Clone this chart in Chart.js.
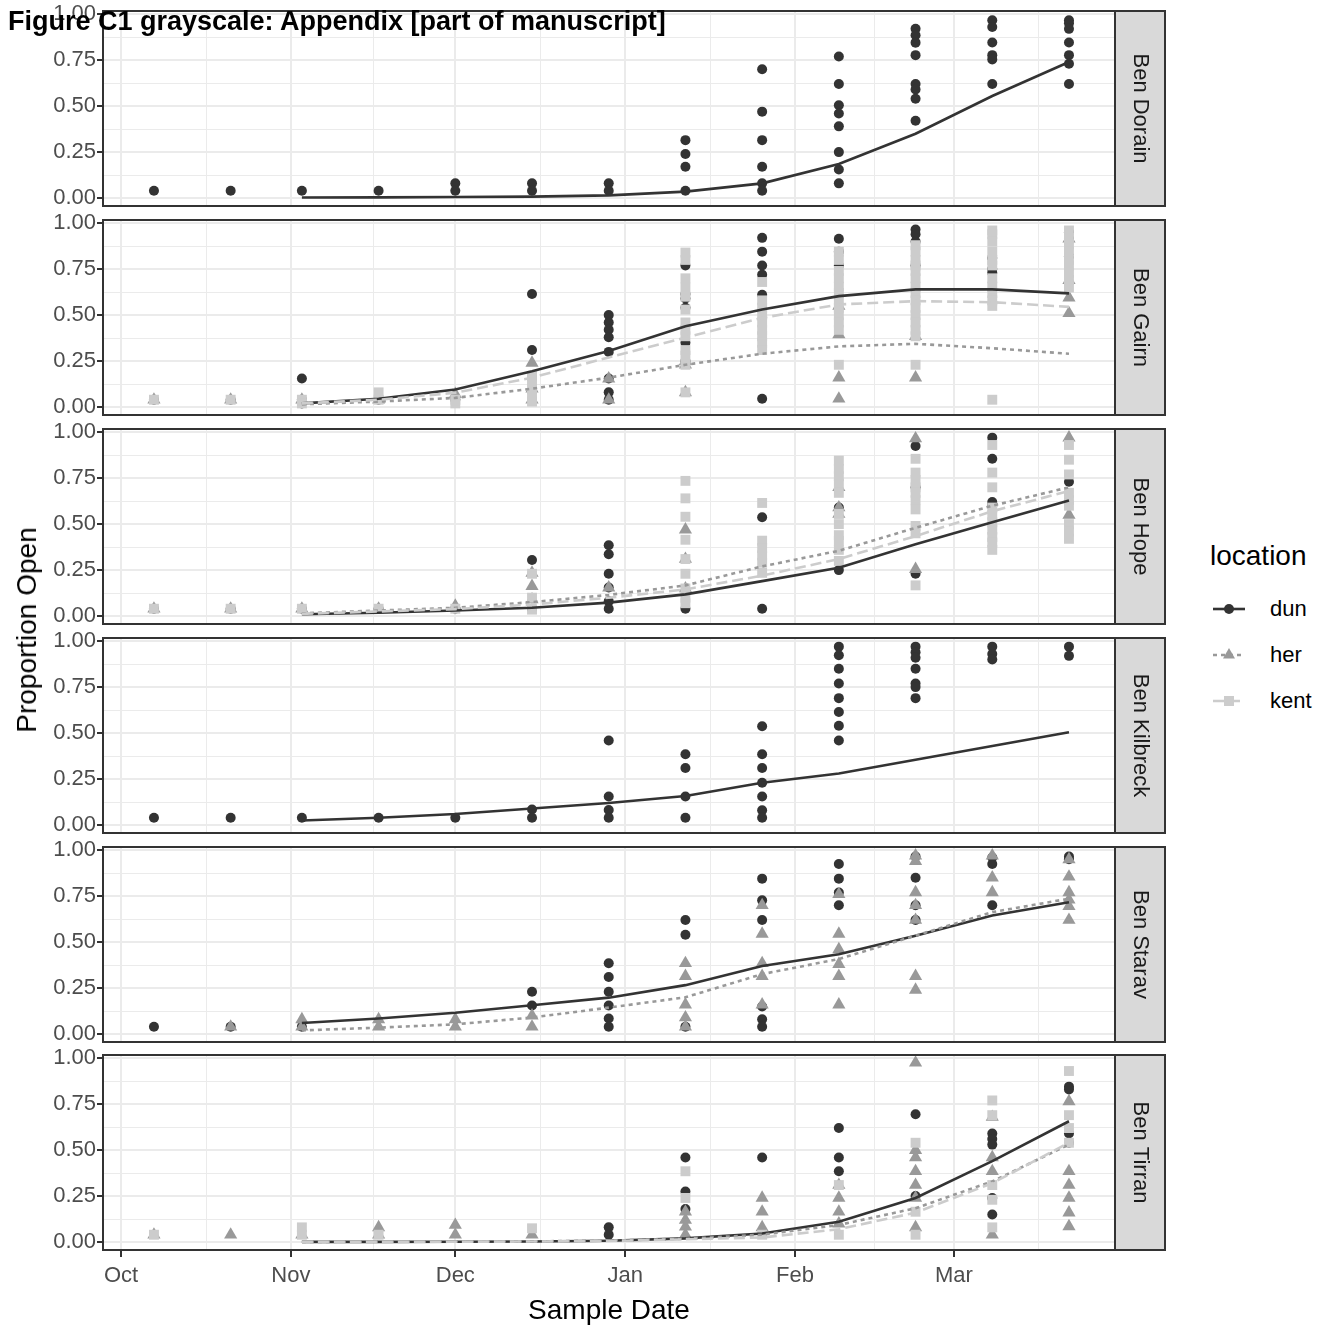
<!DOCTYPE html>
<html><head><meta charset="utf-8">
<script src="https://cdn.jsdelivr.net/npm/chart.js@4.4.0/dist/chart.umd.min.js"></script>
<style>
html,body{margin:0;padding:0;background:#fff;}
body{width:1325px;height:1329px;position:relative;overflow:hidden;font-family:"Liberation Sans",Arial,Helvetica,sans-serif;}
canvas{position:absolute;left:0;}
.t{position:absolute;white-space:nowrap;color:#000;}
</style></head><body>
<script>
// ---------- DATA ----------
const sampleDays = [6, 20, 33, 47, 61, 75, 89, 103, 117, 131, 145, 159, 173];   // days since 1 Oct
const fitDays    = [33, 47, 61, 75, 89, 103, 117, 131, 145, 159, 173];
const monthTicks = [0, 31, 61, 92, 123, 152];
const monthLabels = ['Oct', 'Nov', 'Dec', 'Jan', 'Feb', 'Mar'];
const monthMinor = [15.5, 46, 76.5, 107.5, 137.5, 167.5];
const yMajor = [0, 0.25, 0.5, 0.75, 1];
const yMinor = [0.125, 0.375, 0.625, 0.875];
const locations = ['dun', 'her', 'kent'];
const mountains = ['Ben Dorain', 'Ben Gairn', 'Ben Hope', 'Ben Kilbreck', 'Ben Starav', 'Ben Tirran'];

// observed proportions, one list per sample date
const benDorainDun = [[0.04],[0.04],[0.04],[0.04],[0.08,0.04],[0.08,0.04],[0.08,0.04],[0.315,0.24,0.17,0.04],
  [0.70,0.47,0.315,0.17,0.08,0.04],[0.77,0.62,0.505,0.46,0.39,0.25,0.155,0.08],[0.92,0.885,0.845,0.777,0.62,0.59,0.54,0.42],
  [0.967,0.93,0.846,0.777,0.754,0.62],[0.967,0.95,0.92,0.846,0.777,0.73,0.62]];
const benGairnDun = [[0.04],[0.04],[0.155,0.04,0.02],[0.04],[0.04],[0.615,0.31],[0.50,0.46,0.42,0.38,0.30,0.155,0.08,0.04],
  [0.77,0.615,0.59,0.54,0.35,0.25],[0.92,0.845,0.77,0.72,0.61,0.045],[0.915,0.845,0.77],[0.965,0.94,0.90,0.77],[0.81,0.75,0.73],[0.95,0.915,0.82]];
const benGairnHer = [[0.04],[0.04],[0.04],[0.04],[0.07],[0.24,0.10,0.04],[0.155,0.04],[0.25,0.23,0.08],[],
  [0.55,0.395,0.16,0.045],[0.385,0.16],[],[0.915,0.69,0.595,0.51]];
const benGairnKent = [[0.04],[0.04],[0.04,0.02],[0.08,0.04],[0.04,0.02],[0.17,0.15,0.10,0.06,0.03],[],
  [0.84,0.80,0.70,0.65,0.60,0.53,0.46,0.42,0.385,0.31,0.28,0.23,0.08],[0.68,0.58,0.54,0.50,0.46,0.42,0.385,0.35,0.31],
  [0.845,0.80,0.74,0.70,0.655,0.62,0.58,0.54,0.50,0.46,0.42,0.23],[0.88,0.845,0.80,0.77,0.74,0.70,0.655,0.62,0.58,0.54,0.50,0.46,0.42,0.385,0.23],
  [0.96,0.94,0.90,0.845,0.80,0.77,0.70,0.655,0.62,0.58,0.55,0.04],[0.96,0.92,0.885,0.845,0.80,0.77,0.73,0.69,0.65]];
const benHopeDun = [[0.04],[0.04],[0.04],[0.04],[0.04],[0.305,0.04],[0.385,0.336,0.23,0.155,0.08,0.04],[0.04],[0.537,0.04],
  [0.59,0.25],[0.925,0.70,0.23],[0.97,0.855,0.62,0.60],[0.73]];
const benHopeHer = [[0.04],[0.04],[0.04],[0.04],[0.055],[0.235,0.163,0.09],[0.155],[0.47,0.31,0.15],[],
  [0.70,0.59,0.555],[0.965,0.255],[],[0.97,0.55]];
const benHopeKent = [[0.04],[0.04],[0.04],[0.04],[0.04],[0.23,0.10,0.035],[],[0.735,0.64,0.54,0.415,0.31,0.23,0.15,0.10,0.07],
  [0.615,0.41,0.37,0.33,0.29,0.235],[0.845,0.80,0.76,0.72,0.67,0.555,0.50,0.44,0.41,0.36,0.30],
  [0.855,0.78,0.74,0.70,0.67,0.63,0.58,0.49,0.45,0.167],[0.93,0.78,0.70,0.59,0.55,0.51,0.47,0.43,0.40,0.36],
  [0.93,0.85,0.77,0.67,0.63,0.60,0.50,0.46,0.42]];
const benKilbreckDun = [[0.04],[0.04],[0.04],[0.04],[0.04],[0.085,0.04],[0.46,0.155,0.082,0.04],[0.385,0.31,0.155,0.04],
  [0.537,0.385,0.31,0.23,0.155,0.08,0.04],[0.97,0.923,0.85,0.77,0.69,0.615,0.54,0.46],[0.97,0.94,0.91,0.85,0.77,0.75,0.69],
  [0.97,0.93,0.90],[0.97,0.92]];
const benStaravDun = [[0.04],[0.04],[0.04],[],[],[0.23,0.155],[0.385,0.31,0.23,0.155,0.085,0.04],[0.62,0.54,0.04],
  [0.845,0.727,0.62,0.15,0.08,0.04],[0.925,0.845,0.77,0.70],[0.965,0.85,0.70,0.62],[0.96,0.925,0.70],[0.965,0.95]];
const benStaravHer = [[],[0.04],[0.08,0.04],[0.08,0.04],[0.08,0.04],[0.10,0.04],[],[0.385,0.315,0.16,0.09,0.04],
  [0.70,0.545,0.385,0.315,0.16],[0.76,0.545,0.46,0.38,0.315,0.16],[0.97,0.94,0.77,0.70,0.62,0.315,0.24],[0.97,0.85,0.77],
  [0.95,0.855,0.77,0.73,0.695,0.62]];
const benTirranDun = [[],[],[],[],[],[],[0.08,0.04],[0.46,0.275,0.18],[0.46],[0.62,0.46,0.385],[0.695,0.25],
  [0.59,0.56,0.53,0.24,0.15],[0.845,0.83,0.59,0.54]];
const benTirranHer = [[0.04],[0.04],[0.04],[0.08,0.04],[0.093,0.04],[0.04],[],[0.165,0.12,0.083,0.04],[0.24,0.165,0.08],
  [0.31,0.24,0.165,0.10],[0.975,0.50,0.46,0.385,0.31,0.24,0.08],[0.68,0.46,0.385,0.04],[0.765,0.385,0.31,0.24,0.16,0.085]];
const benTirranKent = [[0.04],[],[0.08,0.04],[0.04],[],[0.075],[],[0.385,0.24],[0.04],[0.31,0.04],[0.54,0.165,0.04],
  [0.77,0.69,0.31,0.23,0.08],[0.93,0.69,0.62,0.54]];

// fitted curves at fitDays
const benDorainDunFit   = [0.003,0.004,0.006,0.008,0.015,0.035,0.08,0.185,0.35,0.555,0.74];
const benGairnDunFit    = [0.02,0.045,0.096,0.195,0.305,0.44,0.53,0.603,0.64,0.64,0.618];
const benGairnHerFit    = [0.015,0.03,0.05,0.10,0.16,0.23,0.29,0.33,0.344,0.32,0.29];
const benGairnKentFit   = [0.02,0.04,0.078,0.16,0.27,0.377,0.485,0.558,0.576,0.57,0.545];
const benHopeDunFit     = [0.01,0.018,0.03,0.045,0.073,0.118,0.19,0.263,0.39,0.51,0.628];
const benHopeHerFit     = [0.015,0.03,0.045,0.076,0.115,0.167,0.27,0.355,0.48,0.60,0.70];
const benHopeKentFit    = [0.012,0.025,0.038,0.063,0.10,0.145,0.22,0.31,0.435,0.57,0.68];
const benKilbreckDunFit = [0.025,0.04,0.06,0.09,0.12,0.158,0.23,0.28,0.355,0.43,0.505];
const benStaravDunFit   = [0.06,0.085,0.116,0.157,0.198,0.266,0.37,0.434,0.535,0.645,0.717];
const benStaravHerFit   = [0.02,0.035,0.053,0.09,0.144,0.20,0.326,0.408,0.535,0.663,0.736];
const benTirranDunFit   = [0.001,0.001,0.002,0.003,0.007,0.02,0.047,0.11,0.24,0.44,0.657];
const benTirranHerFit   = [0.001,0.002,0.003,0.004,0.008,0.018,0.04,0.093,0.184,0.33,0.53];
const benTirranKentFit  = [0.001,0.001,0.002,0.003,0.006,0.015,0.025,0.07,0.16,0.32,0.54];

const panelPoints = [
  {dun: benDorainDun},
  {dun: benGairnDun, her: benGairnHer, kent: benGairnKent},
  {dun: benHopeDun, her: benHopeHer, kent: benHopeKent},
  {dun: benKilbreckDun},
  {dun: benStaravDun, her: benStaravHer},
  {dun: benTirranDun, her: benTirranHer, kent: benTirranKent}
];
const panelFits = [
  {dun: benDorainDunFit},
  {dun: benGairnDunFit, her: benGairnHerFit, kent: benGairnKentFit},
  {dun: benHopeDunFit, her: benHopeHerFit, kent: benHopeKentFit},
  {dun: benKilbreckDunFit},
  {dun: benStaravDunFit, her: benStaravHerFit},
  {dun: benTirranDunFit, her: benTirranHerFit, kent: benTirranKentFit}
];

// ---------- STYLE / LAYOUT ----------
const FONT = '"Liberation Sans", Arial, Helvetica, sans-serif';
const style = {
  dun:  {color: '#333333', shape: 'circle',   radius: 5,   dash: []},
  her:  {color: '#999999', shape: 'triangle', radius: 7.6, dash: [4, 4]},
  kent: {color: '#cccccc', shape: 'rect',     radius: 7.0, dash: [11, 5]}
};
const PANEL_TOPS = [11, 220, 429, 638, 847, 1055];
const PANEL_H = 195;
const PANEL_LEFT = 103, PANEL_RIGHT = 1115, STRIP_W = 50;
const CANVAS_W = 1170;
const PAD = 20, BOTTOM_AXIS_H = 55;

const framePlugin = {
  id: 'frame',
  afterDraw(chart, args, opts) {
    const {ctx, chartArea: a} = chart;
    ctx.save();
    ctx.fillStyle = '#d9d9d9';
    ctx.fillRect(a.right, a.top, STRIP_W, a.bottom - a.top);
    ctx.strokeStyle = '#333333';
    ctx.lineWidth = 2;
    ctx.strokeRect(a.right, a.top, STRIP_W, a.bottom - a.top);
    ctx.strokeRect(a.left, a.top, a.right - a.left, a.bottom - a.top);
    ctx.translate(a.right + STRIP_W / 2, (a.top + a.bottom) / 2);
    ctx.rotate(Math.PI / 2);
    ctx.fillStyle = '#1a1a1a';
    ctx.font = '22px ' + FONT;
    ctx.textAlign = 'center';
    ctx.textBaseline = 'middle';
    ctx.fillText(opts.text, 0, 0);
    ctx.restore();
  }
};

function buildDatasets(i) {
  const ds = [];
  let ord = 10;
  locations.forEach(loc => {
    const pts = panelPoints[i][loc];
    if (!pts) return;
    const data = [];
    pts.forEach((vals, k) => vals.forEach(v => data.push({x: sampleDays[k], y: v})));
    const s = style[loc];
    ds.push({label: loc, data, showLine: false, pointStyle: s.shape, pointRadius: s.radius,
      pointBackgroundColor: s.color, pointBorderWidth: 0, pointBorderColor: s.color, order: ord--});
  });
  locations.forEach(loc => {
    const fit = panelFits[i][loc];
    if (!fit) return;
    const s = style[loc];
    ds.push({label: loc + ' fit', data: fit.map((v, k) => ({x: fitDays[k], y: v})), showLine: true,
      pointRadius: 0, borderColor: s.color, borderWidth: 2.6, borderDash: s.dash, fill: false, tension: 0, order: ord--});
  });
  return ds;
}

mountains.forEach((name, i) => {
  const last = i === mountains.length - 1;
  const cv = document.createElement('canvas');
  const h = PAD + PANEL_H + (last ? BOTTOM_AXIS_H + 5 : PAD);
  cv.width = CANVAS_W; cv.height = h;
  cv.style.top = (PANEL_TOPS[i] - PAD) + 'px';
  cv.style.width = CANVAS_W + 'px'; cv.style.height = h + 'px';
  document.body.appendChild(cv);
  new Chart(cv, {
    type: 'scatter',
    data: {datasets: buildDatasets(i)},
    plugins: [framePlugin],
    options: {
      responsive: false, animation: false, devicePixelRatio: 1,
      layout: {padding: {left: 0, right: CANVAS_W - PANEL_RIGHT, top: PAD, bottom: last ? 5 : PAD}},
      plugins: {legend: {display: false}, tooltip: {enabled: false}, frame: {text: name}},
      scales: {
        x: {
          type: 'linear', min: -3.3, max: 181.4, bounds: 'data',
          afterBuildTicks: ax => { ax.ticks = monthTicks.concat(monthMinor).sort((a, b) => a - b).map(v => ({value: v})); },
          afterFit: ax => { ax.height = last ? BOTTOM_AXIS_H : 0; },
          border: {display: false},
          grid: {
            color: '#ebebeb',
            lineWidth: c => (c.tick && monthTicks.includes(c.tick.value)) ? 2 : 1,
            drawTicks: last, tickLength: 7, tickWidth: 2,
            tickColor: c => (c.tick && monthTicks.includes(c.tick.value)) ? '#333333' : 'rgba(0,0,0,0)'
          },
          ticks: {
            display: last, autoSkip: false, maxRotation: 0, padding: 6, color: '#4d4d4d',
            font: {family: FONT, size: 22},
            callback: v => { const k = monthTicks.indexOf(v); return k >= 0 ? monthLabels[k] : ''; }
          }
        },
        y: {
          type: 'linear', min: -0.043, max: 1.017, bounds: 'data',
          afterBuildTicks: ax => { ax.ticks = yMajor.concat(yMinor).sort((a, b) => a - b).map(v => ({value: v})); },
          afterFit: ax => { ax.width = PANEL_LEFT; },
          border: {display: false},
          grid: {
            color: '#ebebeb',
            lineWidth: c => (c.tick && yMajor.includes(c.tick.value)) ? 2 : 1,
            drawTicks: true, tickLength: 6, tickWidth: 2,
            tickColor: c => (c.tick && yMajor.includes(c.tick.value)) ? '#333333' : 'rgba(0,0,0,0)'
          },
          ticks: {
            autoSkip: false, padding: 1, color: '#4d4d4d', font: {family: FONT, size: 22},
            callback: v => yMajor.includes(v) ? v.toFixed(2) : ''
          }
        }
      }
    }
  });
});

// ---------- TEXT: titles & legend ----------
function addText(txt, css) {
  const d = document.createElement('div');
  d.className = 't'; d.textContent = txt;
  Object.assign(d.style, css);
  document.body.appendChild(d);
  return d;
}
addText('Figure C1 grayscale: Appendix [part of manuscript]', {left: '8px', top: '6px', fontSize: '27px', fontWeight: 'bold', lineHeight: '30px', zIndex: 5});
addText('Sample Date', {left: '609px', top: '1293px', fontSize: '28px', lineHeight: '34px', transform: 'translateX(-50%)'});
addText('Proportion Open', {left: '27px', top: '630px', fontSize: '28px', lineHeight: '34px', transform: 'translate(-50%,-50%) rotate(-90deg)'});
addText('location', {left: '1210px', top: '539px', fontSize: '28px', lineHeight: '34px'});

const legendY = [609, 655, 701];
locations.forEach((loc, k) => {
  const s = style[loc];
  const ns = 'http://www.w3.org/2000/svg';
  const svg = document.createElementNS(ns, 'svg');
  svg.setAttribute('width', '36'); svg.setAttribute('height', '24');
  svg.style.position = 'absolute'; svg.style.left = '1211px'; svg.style.top = (legendY[k] - 12) + 'px';
  const ln = document.createElementNS(ns, 'line');
  ln.setAttribute('x1', '2'); ln.setAttribute('x2', '34'); ln.setAttribute('y1', '12'); ln.setAttribute('y2', '12');
  ln.setAttribute('stroke', s.color); ln.setAttribute('stroke-width', '2.6');
  if (s.dash.length) ln.setAttribute('stroke-dasharray', s.dash.join(' '));
  svg.appendChild(ln);
  let m;
  if (loc === 'dun') { m = document.createElementNS(ns, 'circle'); m.setAttribute('cx', '18'); m.setAttribute('cy', '12'); m.setAttribute('r', '5'); }
  else if (loc === 'her') { m = document.createElementNS(ns, 'polygon'); m.setAttribute('points', '18,5 24,15.5 12,15.5'); }
  else { m = document.createElementNS(ns, 'rect'); m.setAttribute('x', '13'); m.setAttribute('y', '7'); m.setAttribute('width', '10'); m.setAttribute('height', '10'); }
  m.setAttribute('fill', s.color);
  svg.appendChild(m);
  document.body.appendChild(svg);
  addText(loc, {left: '1270px', top: (legendY[k] - 13) + 'px', fontSize: '22px', lineHeight: '26px'});
});
</script>
</body></html>
